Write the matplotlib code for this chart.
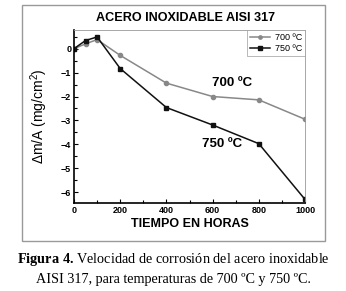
import matplotlib
matplotlib.use("Agg")
import matplotlib.pyplot as plt
from matplotlib.patches import Rectangle
from matplotlib.ticker import MultipleLocator

hours = [0, 50, 100, 200, 400, 600, 800, 1000]
series_700 = [0.0, 0.2, 0.38, -0.28, -1.44, -2.0, -2.14, -2.95]
series_750 = [0.0, 0.34, 0.49, -0.83, -2.46, -3.19, -3.97, -6.3]
labels = ["700 ºC", "750 ºC"]
title = "ACERO INOXIDABLE AISI 317"
xlabel = "TIEMPO EN HORAS"
ylabel = "Δm/A (mg/cm$^2$)"
x_ticks = [0, 200, 400, 600, 800, 1000]
y_ticks = [-6, -5, -4, -3, -2, -1, 0]

W, H = 346, 291
plt.rcParams['font.family'] = ['Liberation Sans', 'DejaVu Sans']
plt.rcParams['mathtext.fontset'] = 'custom'
plt.rcParams['mathtext.rm'] = 'Liberation Sans'
plt.rcParams['mathtext.bf'] = 'Liberation Serif:bold'
fig = plt.figure(figsize=(W / 100, H / 100), dpi=100)

# axes placement in pixels
x0, x1 = 74, 305
y_top, y_bot = 30, 203
ax = fig.add_axes([x0 / W, 1 - y_bot / H, (x1 - x0) / W, (y_bot - y_top) / H])

ax.plot(hours, series_700, color='#888888', lw=1.1, marker='o', ms=3, label=labels[0])
ax.plot(hours, series_750, color='#111111', lw=1.1, marker='s', ms=3, label=labels[1])

ax.set_xlim(0, 1000)
ax.set_ylim(-6.45, 0.78)
ax.set_xticks(x_ticks)
ax.set_yticks(y_ticks)
ax.xaxis.set_minor_locator(MultipleLocator(100))
ax.yaxis.set_minor_locator(MultipleLocator(0.5))
ax.tick_params(which='both', direction='in', labelsize=6.5, width=0.8, top=False, right=False)
ax.tick_params(which='major', length=3)
ax.tick_params(which='minor', length=2)
for lab in ax.get_xticklabels() + ax.get_yticklabels():
    lab.set_fontweight('bold')
ax.tick_params(axis='x', pad=2)
ax.tick_params(axis='y', pad=2)

for s in ['left', 'bottom']:
    ax.spines[s].set_linewidth(1.2)
    ax.spines[s].set_color('black')
for s in ['top', 'right']:
    ax.spines[s].set_linewidth(0.6)
    ax.spines[s].set_color('#999999')

ax.set_xlabel(xlabel, fontsize=9, fontweight='bold', labelpad=2)
ax.set_ylabel(ylabel, fontsize=10)
ax.yaxis.set_label_coords(-0.105, 0.5)

fig.text(186 / W, 1 - 18 / H, title, ha='center', va='center', fontsize=9.1, fontweight='bold')

ax.text(684, -1.45, labels[0], fontsize=9.5, fontweight='bold', ha='center', va='center')
ax.text(640, -3.97, labels[1], fontsize=9.5, fontweight='bold', ha='center', va='center')

leg = ax.legend(loc='upper right', fontsize=6.5, frameon=True, fancybox=False,
                handlelength=2.2, borderpad=0.3, labelspacing=0.25, handletextpad=0.6,
                borderaxespad=0.0, markerscale=0.8)
leg.get_frame().set_edgecolor('#999999')
leg.get_frame().set_linewidth(0.6)

# figure frame
fig.patches.append(Rectangle((22 / W, 1 - 241 / H), (325 - 22) / W, (241 - 5) / H,
                             transform=fig.transFigure, fill=False,
                             edgecolor='#999999', lw=1.0))

serif = ['Liberation Serif', 'DejaVu Serif']
fig.text(0.5, 1 - 259 / H,
         r"$\mathbf{Figura\ 4.}$Velocidad de corrosión del acero inoxidable",
         ha='center', va='center', fontsize=10.3, family=serif)
fig.text(0.5, 1 - 279 / H, "AISI 317, para temperaturas de 700 ºC y 750 ºC.",
         ha='center', va='center', fontsize=10.2, family=serif)

fig.savefig('out.png', dpi=100)
